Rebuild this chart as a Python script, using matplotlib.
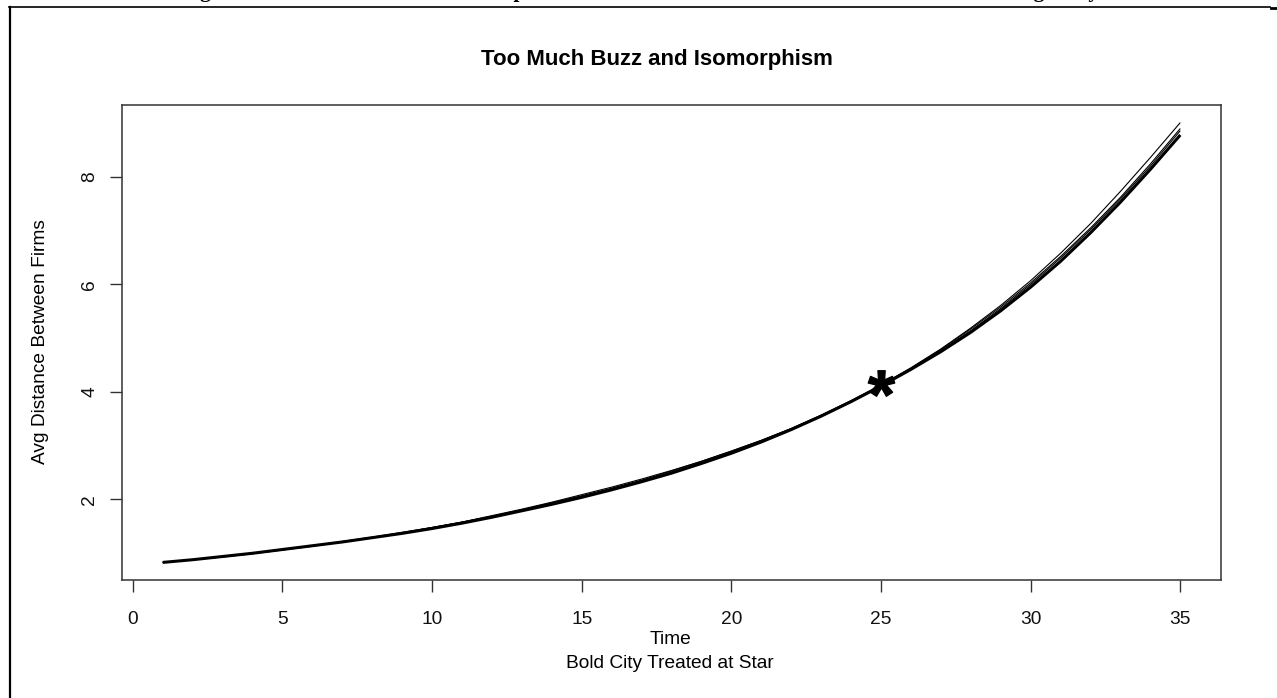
import matplotlib
matplotlib.use("Agg")
import matplotlib.pyplot as plt
from matplotlib.lines import Line2D
from matplotlib.textpath import TextPath
from matplotlib.font_manager import FontProperties
from matplotlib.path import Path
import numpy as np

# ---------------- data ----------------
time = list(range(1, 36))

city_a = [0.83, 0.88, 0.94, 1.00, 1.07, 1.14, 1.22, 1.30, 1.39, 1.48, 1.58, 1.69,
          1.81, 1.94, 2.07, 2.21, 2.36, 2.53, 2.71, 2.90, 3.10, 3.32, 3.57, 3.84,
          4.13, 4.45, 4.80, 5.19, 5.61, 6.07, 6.58, 7.13, 7.73, 8.36, 9.01]
city_b = [0.83, 0.88, 0.94, 1.00, 1.07, 1.14, 1.21, 1.29, 1.38, 1.47, 1.57, 1.68,
          1.80, 1.93, 2.06, 2.20, 2.35, 2.51, 2.69, 2.88, 3.09, 3.31, 3.55, 3.82,
          4.12, 4.43, 4.77, 5.14, 5.55, 6.00, 6.49, 7.02, 7.59, 8.20, 8.86]
city_c = [0.83, 0.88, 0.93, 0.99, 1.06, 1.13, 1.21, 1.29, 1.38, 1.48, 1.58, 1.70,
          1.82, 1.95, 2.09, 2.23, 2.38, 2.54, 2.71, 2.90, 3.10, 3.32, 3.56, 3.83,
          4.12, 4.44, 4.79, 5.17, 5.58, 6.03, 6.52, 7.05, 7.62, 8.24, 8.90]
city_bold = [0.83, 0.88, 0.94, 1.00, 1.07, 1.14, 1.21, 1.29, 1.37, 1.46, 1.56, 1.67,
             1.79, 1.91, 2.04, 2.18, 2.33, 2.49, 2.67, 2.86, 3.07, 3.30, 3.55, 3.82,
             4.11, 4.42, 4.75, 5.11, 5.51, 5.95, 6.43, 6.96, 7.53, 8.14, 8.78]
thin_cities = [city_a, city_b, city_c]

star_time = 25
star_value = 4.16

x_ticks = [0, 5, 10, 15, 20, 25, 30, 35]
y_ticks = [2, 4, 6, 8]

title = "Too Much Buzz and Isomorphism"
x_label = "Time"
sub_label = "Bold City Treated at Star"
y_label = "Avg Distance Between Firms"
doc_caption = ("Figure 4: Continued Simulation Output: Local Interaction Model "
               "with Firm Location Heterogeneity")

# ---------------- figure ----------------
W, H = 1277, 698
fig = plt.figure(figsize=(W / 100, H / 100), dpi=100)
plt.rcParams['font.family'] = ['Liberation Sans', 'DejaVu Sans']

def fx(px):
    return px / W

def fy(py):
    return 1 - py / H

# document frame
fig.add_artist(Line2D([fx(9.5), fx(9.5)], [fy(7), fy(700)], color='black', lw=1.6))
fig.add_artist(Line2D([fx(9), fx(1270)], [fy(7), fy(7)], color='black', lw=1.2))
fig.add_artist(Line2D([fx(1271), fx(1277)], [fy(7.5), fy(7.5)], color='black', lw=2.0))

# document caption, cut off by the top edge (only descenders show)
fig.text(fx(181), fy(-3.0), doc_caption, family='Liberation Serif', weight='bold',
         fontsize=15.5, ha='left', va='baseline')

L, R, T, B = 122, 1221, 105, 580
ax = fig.add_axes([fx(L), fy(B), fx(R) - fx(L), fy(T) - fy(B)])

for c in thin_cities:
    ax.plot(time, c, color='black', lw=0.8, solid_capstyle='butt')
ax.plot(time, city_bold, color='black', lw=2.2, solid_capstyle='butt')

# star marker built from the asterisk glyph, centred on its true extents
tp = TextPath((0, 0), "*", prop=FontProperties(family='Liberation Sans', weight='bold'))
ext = tp.get_extents()
cx, cy = (ext.x0 + ext.x1) / 2, (ext.y0 + ext.y1) / 2
verts = np.array(tp.vertices, dtype=float) - [cx, cy]
codes = np.array(tp.codes)
verts[codes == Path.CLOSEPOLY] = 0.0
star_path = Path(verts, codes)
ax.plot([star_time], [star_value], marker=star_path, markersize=19,
        color='black', linestyle='none')

pad_x = (max(time) - min(time)) * 0.04
all_y = city_a + city_b + city_c + city_bold
pad_y = (max(all_y) - min(all_y)) * 0.04
ax.set_xlim(min(time) - pad_x, max(time) + pad_x)
ax.set_ylim(min(all_y) - pad_y, max(all_y) + pad_y)

ax.set_xticks(x_ticks)
ax.set_yticks(y_ticks)
ax.set_xticklabels([str(v) for v in x_ticks])
ax.set_yticklabels([str(v) for v in y_ticks], rotation=90, va='center')
ax.tick_params(axis='both', length=8.6, width=1.0, color='#333333',
               labelsize=13.8, labelcolor='#111111')
ax.tick_params(axis='x', pad=13.5)
ax.tick_params(axis='y', pad=8.5)
for s in ax.spines.values():
    s.set_color('#333333')
    s.set_linewidth(1.1)

fig.text(fx(657), fy(60), title, fontsize=16, weight='bold', ha='center', va='center')
fig.text(fx(670), fy(640), x_label, fontsize=13.8, ha='center', va='center')
fig.text(fx(670), fy(664), sub_label, fontsize=13.8, ha='center', va='center')
fig.text(fx(41), fy(342), y_label, fontsize=13.8, ha='center', va='center', rotation=90)

fig.savefig("out.png", dpi=100)
